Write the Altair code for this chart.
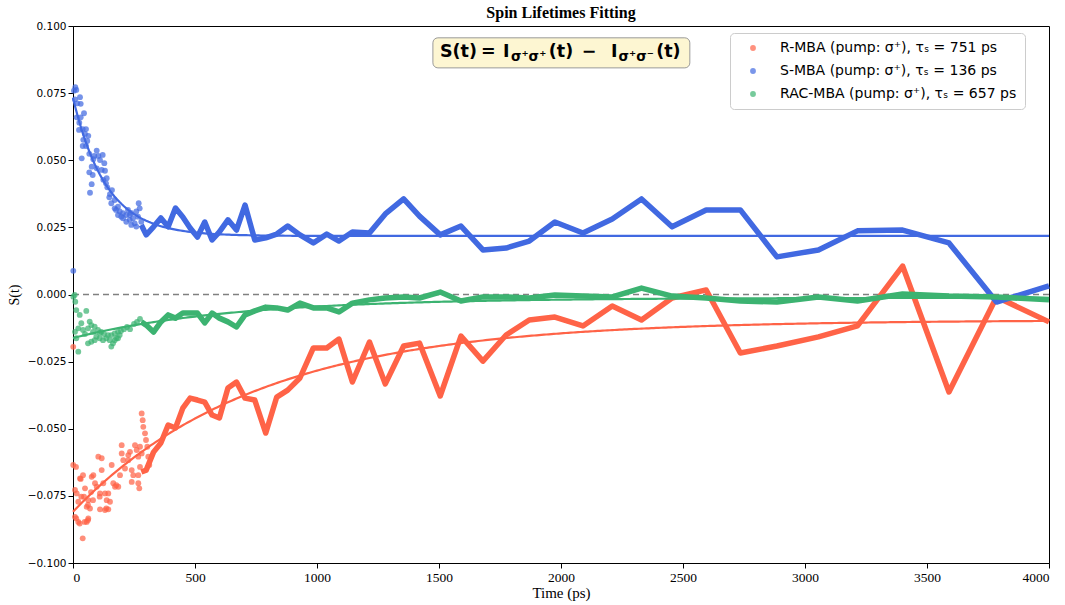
import numpy as np
import pandas as pd
import altair as alt

# ---- series metadata -------------------------------------------------------
SERIES = ["R-MBA", "S-MBA", "RAC-MBA"]
COLORS = ["#ff6347", "#4169e1", "#3cb371"]
TAU_PS = [751, 136, 657]
FIT_AMP = [-0.0714, 0.0514, -0.0150]
FIT_OFFSET = [-0.0095, 0.0218, -0.0012]

# ---- dense early-time measurements (time in ps, S(t)) ----------------------
R_T = [1, 1, 12.3, 8.2, 15.2, 21.7, 8.2, 21.7, 39.8, 28.7, 49.2, 45.1, 56.1, 62.7,
       69.7, 62.7, 56.1, 76.6, 83.2, 90.2, 97.1, 103.7, 117.6, 110.6, 124.2, 117.6,
       110.6, 131.1, 138.1, 144.7, 151.6, 144.7, 131.1, 158.6, 165.1, 172.1, 185.6,
       192.6, 199.6, 199.6, 206.1, 213.1, 226.6, 233.6, 226.6, 240.6, 240.6, 247.1,
       254.1, 261.0, 267.6, 274.6, 267.6, 267.6, 271.7, 281.5, 285.6, 288.1, 295.1,
       299.2, 304.5, 308.6, 312.7, 281.5, 274.6, 13.5, 27.5, 61.5, 47.9, 31.6, 109.4,
       136.5, 177.4, 41.0, 61.5, 34.0, 73.8, 82.0]
R_S = [-0.0195, -0.0635, -0.0642, -0.0728, -0.0741, -0.0772, -0.0828, -0.0847,
       -0.0908, -0.0685, -0.0722, -0.0753, -0.0791, -0.0766, -0.0797, -0.0834,
       -0.0847, -0.0679, -0.0673, -0.0703, -0.0716, -0.0604, -0.0610, -0.0741,
       -0.0703, -0.0654, -0.0800, -0.0741, -0.0766, -0.0741, -0.0772, -0.0800,
       -0.0803, -0.0635, -0.0703, -0.0716, -0.0716, -0.0673, -0.0561, -0.0592,
       -0.0617, -0.0648, -0.0617, -0.0586, -0.0598, -0.0654, -0.0698, -0.0673,
       -0.0561, -0.0579, -0.0604, -0.0642, -0.0673, -0.0703, -0.0722, -0.0443,
       -0.0468, -0.0493, -0.0517, -0.0542, -0.0567, -0.0604, -0.0635, -0.0592,
       -0.0567, -0.0834, -0.0853, -0.0840, -0.0847, -0.0687, -0.0753, -0.0797,
       -0.0710, -0.0673, -0.0784, -0.0753, -0.0736, -0.0766]

S_T = [9.4, 13.5, 4.1, 28.7, 8.2, 17.6, 31.6, 45.1, 15.2, 31.6, 25.8, 24.6, 39.8,
       53.3, 49.2, 62.7, 42.2, 58.6, 39.8, 53.3, 35.7, 66.8, 97.1, 87.3, 103.7,
       121.7, 83.2, 110.6, 128.3, 76.6, 97.1, 117.6, 66.8, 80.7, 131.1, 138.1, 124.2,
       76.6, 135.2, 140.6, 69.7, 148.8, 157.0, 170.9, 184.4, 170.9, 191.4, 204.9,
       218.4, 204.9, 232.4, 245.9, 259.4, 269.2, 273.3, 266.4, 252.8, 238.9, 218.4,
       232.4, 279.9, 259.4, 197.9, 184.4, 1.2, 159.8, 151.6, 176.2, 225.4, 237.7]
S_S = [0.0772, 0.0762, 0.0759, 0.0735, 0.0727, 0.0712, 0.0710, 0.0675, 0.0660,
       0.0660, 0.0640, 0.0613, 0.0616, 0.0616, 0.0598, 0.0591, 0.0576, 0.0572,
       0.0553, 0.0553, 0.0507, 0.0524, 0.0536, 0.0516, 0.0516, 0.0520, 0.0504,
       0.0501, 0.0489, 0.0476, 0.0470, 0.0464, 0.0455, 0.0445, 0.0461, 0.0433,
       0.0427, 0.0411, 0.0414, 0.0399, 0.0379, 0.0362, 0.0340, 0.0352, 0.0327,
       0.0321, 0.0309, 0.0303, 0.0296, 0.0284, 0.0278, 0.0284, 0.0309, 0.0340,
       0.0321, 0.0290, 0.0265, 0.0259, 0.0271, 0.0296, 0.0271, 0.0253, 0.0290,
       0.0296, 0.0088, 0.0389, 0.0374, 0.0315, 0.0315, 0.0304]

RAC_T = [1.2, 7.0, 9.4, 13.5, 27.5, 54.5, 34.0, 41.0, 61.5, 68.4, 75.0, 82.0, 88.9,
         102.5, 116.0, 95.5, 109.4, 123.0, 136.5, 150.4, 143.4, 157.0, 170.9, 184.4,
         177.4, 163.9, 157.0, 184.4, 170.9, 191.4, 61.5, 75.0, 88.9, 13.5, 8.2, 21.7,
         21.7, 49.2, 196.7, 209.0, 221.3, 233.6, 250.0, 262.3, 274.6, 127.0, 110.6]
RAC_S = [-0.0008, -0.0002, -0.0027, -0.0058, -0.0076, -0.0061, -0.0107, -0.0132,
         -0.0126, -0.0101, -0.0114, -0.0139, -0.0120, -0.0132, -0.0139, -0.0157,
         -0.0163, -0.0170, -0.0163, -0.0170, -0.0151, -0.0151, -0.0145, -0.0139,
         -0.0163, -0.0182, -0.0194, -0.0163, -0.0170, -0.0151, -0.0182, -0.0176,
         -0.0170, -0.0163, -0.0139, -0.0126, -0.0213, -0.0147, -0.0136, -0.0129,
         -0.0121, -0.0129, -0.0110, -0.0102, -0.0091, -0.0147, -0.0143]

# ---- long-delay trace sampled on a shared time grid -------------------------
LINE_T = [280, 300, 330, 360, 390, 420, 450, 480, 510, 540, 570, 600, 635, 670,
          705, 745, 790, 835, 880, 930, 985, 1040, 1090, 1145, 1215, 1280, 1355,
          1420, 1505, 1590, 1680, 1775, 1870, 1975, 2090, 2210, 2330, 2455, 2595,
          2735, 2885, 3055, 3215, 3400, 3590, 3785, 4000]
R_LINE = [-0.0661, -0.0654, -0.0587, -0.0553, -0.0486, -0.0497, -0.0423, -0.0386,
          -0.0393, -0.0401, -0.0449, -0.0460, -0.0348, -0.0326, -0.0386, -0.0393,
          -0.0516, -0.0382, -0.0356, -0.0311, -0.0199, -0.0199, -0.0166, -0.0326,
          -0.0177, -0.0333, -0.0192, -0.0181, -0.0378, -0.0155, -0.0248, -0.0151,
          -0.0095, -0.0084, -0.0117, -0.0043, -0.0095, -0.0013, 0.0017, -0.0218,
          -0.0192, -0.0158, -0.0117, 0.0106, -0.0363, -0.0009, -0.0102]
S_LINE = [0.0259, 0.0222, 0.0252, 0.0285, 0.0252, 0.0322, 0.0289, 0.0248, 0.0214,
          0.0270, 0.0203, 0.0233, 0.0278, 0.0240, 0.0333, 0.0203, 0.0211, 0.0225,
          0.0255, 0.0222, 0.0192, 0.0225, 0.0199, 0.0233, 0.0229, 0.0300, 0.0356,
          0.0292, 0.0222, 0.0255, 0.0166, 0.0173, 0.0199, 0.0270, 0.0229, 0.0281,
          0.0356, 0.0252, 0.0315, 0.0315, 0.0140, 0.0166, 0.0237, 0.0240, 0.0192,
          -0.0028, 0.0032]
RAC_LINE = [-0.0102, -0.0114, -0.0140, -0.0102, -0.0076, -0.0088, -0.0069, -0.0069,
            -0.0069, -0.0106, -0.0069, -0.0088, -0.0102, -0.0121, -0.0076, -0.0061,
            -0.0047, -0.0050, -0.0058, -0.0032, -0.0050, -0.0050, -0.0065, -0.0032,
            -0.0020, -0.0013, -0.0009, -0.0013, 0.0009, -0.0024, -0.0009, -0.0009,
            -0.0013, -0.0002, -0.0006, -0.0009, 0.0024, -0.0006, -0.0013, -0.0024,
            -0.0028, -0.0009, -0.0024, 0.0002, -0.0006, -0.0009, -0.0020]

X_TICKS = [0, 500, 1000, 1500, 2000, 2500, 3000, 3500, 4000]
Y_TICKS = [-0.100, -0.075, -0.050, -0.025, 0.000, 0.025, 0.050, 0.075, 0.100]

# ---- tables ------------------------------------------------------------------
LABELS = [f"{name} (pump: σ⁺), τₛ = {tau} ps" for name, tau in zip(SERIES, TAU_PS)]

scatter_df = pd.concat([
    pd.DataFrame({"t": t, "s": s, "label": lab})
    for t, s, lab in zip([R_T, S_T, RAC_T], [R_S, S_S, RAC_S], LABELS)
], ignore_index=True)

line_df = pd.concat([
    pd.DataFrame({"t": LINE_T, "s": s, "label": lab})
    for s, lab in zip([R_LINE, S_LINE, RAC_LINE], LABELS)
], ignore_index=True)

# mono-exponential fits: S(t) = A exp(-t / tau) + C
t_fit = np.linspace(0, 4000, 401)
fit_df = pd.concat([
    pd.DataFrame({"t": t_fit, "s": a * np.exp(-t_fit / tau) + c, "label": lab})
    for a, tau, c, lab in zip(FIT_AMP, TAU_PS, FIT_OFFSET, LABELS)
], ignore_index=True)

# ---- scales / axes -------------------------------------------------------------
x_scale = alt.Scale(domain=[0, 4000], nice=False, zero=False)
y_scale = alt.Scale(domain=[-0.1, 0.1], nice=False, zero=False)
color_scale = alt.Scale(domain=LABELS, range=COLORS)

x_axis = alt.Axis(values=X_TICKS, format="d", title="Time (ps)", grid=False,
                  labelFont="Liberation Serif", labelFontSize=13.5,
                  titleFont="Liberation Serif", titleFontSize=15,
                  titleFontWeight="normal", titlePadding=2,
                  tickSize=5, labelPadding=2, domainColor="black",
                  tickColor="black", labelColor="black", titleColor="black")
y_axis = alt.Axis(values=Y_TICKS, format=".3f", title="S(t)", grid=False,
                  labelFont="DejaVu Sans", labelFontSize=10.5,
                  titleFont="Liberation Serif", titleFontSize=14,
                  titleFontWeight="normal", titlePadding=6,
                  tickSize=5, labelPadding=2, domainColor="black",
                  tickColor="black", labelColor="black", titleColor="black")

X = alt.X("t:Q", scale=x_scale, axis=x_axis)
Y = alt.Y("s:Q", scale=y_scale, axis=y_axis)

legend = alt.Legend(orient="none", legendX=657, legendY=7, title=None,
                    labelFont="DejaVu Sans", labelFontSize=14, labelColor="black",
                    labelLimit=500, labelOffset=20, symbolOffset=8,
                    symbolType="circle", symbolSize=34, symbolOpacity=0.7,
                    symbolStrokeWidth=0, fillColor="white", strokeColor="#cccccc",
                    cornerRadius=4, padding=8, rowPadding=9)

zero_line = alt.Chart(pd.DataFrame({"s": [0.0]})).mark_rule(
    color="#808080", strokeDash=[6, 4], strokeWidth=1.5
).encode(y=alt.Y("s:Q", scale=y_scale))

points = alt.Chart(scatter_df).mark_circle(size=34, opacity=0.72).encode(
    x=X, y=Y, color=alt.Color("label:N", scale=color_scale, legend=legend)
)

traces = alt.Chart(line_df).mark_line(strokeWidth=5.5, strokeJoin="round").encode(
    x=X, y=Y, order="t:Q",
    color=alt.Color("label:N", scale=color_scale, legend=None)
)

fits = alt.Chart(fit_df).mark_line(strokeWidth=2.2).encode(
    x=X, y=Y, order="t:Q",
    color=alt.Color("label:N", scale=color_scale, legend=None)
)

# ---- formula box -------------------------------------------------------------------
one = pd.DataFrame({"k": [0]})
box = alt.Chart(one).mark_rect(
    cornerRadius=5, fill="#fdf6d2", stroke="#9a9a9a", strokeWidth=1
).encode(x=alt.datum(1475), x2=alt.datum(2528),
         y=alt.datum(0.0956), y2=alt.datum(0.0844))


def piece(text, t, s, size):
    return alt.Chart(one).mark_text(
        text=text, font="DejaVu Sans", fontWeight="bold", fontSize=size,
        align="left", baseline="middle", color="black"
    ).encode(x=alt.datum(t), y=alt.datum(s))


MAIN = 0.0904
SUB = 0.0885
formula = [
    piece("S(t)", 1504, MAIN, 17.5),
    piece("=", 1672, MAIN, 17.5),
    piece("I", 1762, MAIN, 17.5),
    piece("σ⁺σ⁺", 1795, SUB, 13.5),
    piece("(t)", 1950, MAIN, 17.5),
    piece("−", 2085, MAIN, 17.5),
    piece("I", 2205, MAIN, 17.5),
    piece("σ⁺σ⁻", 2236, SUB, 13.5),
    piece("(t)", 2390, MAIN, 17.5),
]

chart = alt.layer(zero_line, points, traces, fits, box, *formula).properties(
    width=976, height=537,
    title=alt.TitleParams("Spin Lifetimes Fitting", font="Liberation Serif",
                          fontSize=16, fontWeight="bold", anchor="middle",
                          baseline="top", color="black", offset=0),
    autosize=alt.AutoSizeParams(type="none"),
    padding={"left": 73, "top": 26, "right": 16, "bottom": 42},
).configure_view(stroke="black", strokeWidth=1)

chart.save("out.html", embed_options={"renderer": "svg", "actions": False})
